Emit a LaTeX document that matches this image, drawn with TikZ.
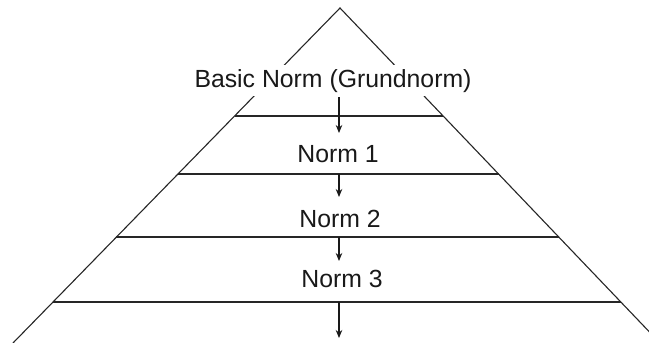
\documentclass[tikz,border=0pt]{standalone}
\usepackage{fontspec}
\setmainfont{Liberation Sans}
\usetikzlibrary{calc,arrows.meta}
\begin{document}
\begin{tikzpicture}[x=1pt,y=-1pt,
  edge/.style={line width=1.1pt,black!85},
  tier/.style={line width=1.1pt,black!85},
  lab/.style={font=\fontsize{24.8}{28}\selectfont,anchor=base,inner sep=0pt,text=black!90},
  down/.style={line width=1.1pt,black!90,-{Stealth[length=8pt,width=6.5pt]}}]
\useasboundingbox (0,0) rectangle (649,343);
\coordinate (apex) at (340,8);
\coordinate (BL) at (13,343);
\coordinate (BR) at (660,343);
\begin{scope}
\clip (0,0) rectangle (649,343);
\draw[edge] (BL) -- (apex) -- (BR);
\end{scope}
% tiers
\foreach \y/\n in {116/a,174/b,237/c,302/d}{
  \coordinate (L\n) at ($(apex)!{(\y-8)/335}!(BL)$);
  \coordinate (R\n) at ($(apex)!{(\y-8)/335}!(BR)$);
  \draw[tier] (L\n) -- (R\n);
}
\node[lab,fill=white,inner xsep=3pt,inner ysep=4pt] (basic) at (333,87) {Basic Norm (Grundnorm)};
\node[lab] (n1) at (338,162) {Norm 1};
\node[lab] (n2) at (340,227) {Norm 2};
\node[lab] (n3) at (342,287) {Norm 3};
\coordinate (s1) at (339,97);
\coordinate (e1) at (339,133);
\coordinate (s2) at (339,174);
\coordinate (e2) at (339,197);
\coordinate (s3) at (339,237);
\coordinate (e3) at (339,261);
\coordinate (s4) at (339,302);
\coordinate (e4) at (339,338);
\draw[down] (s1) -- (e1);
\draw[down] (s2) -- (e2);
\draw[down] (s3) -- (e3);
\draw[down] (s4) -- (e4);
\end{tikzpicture}
\end{document}
